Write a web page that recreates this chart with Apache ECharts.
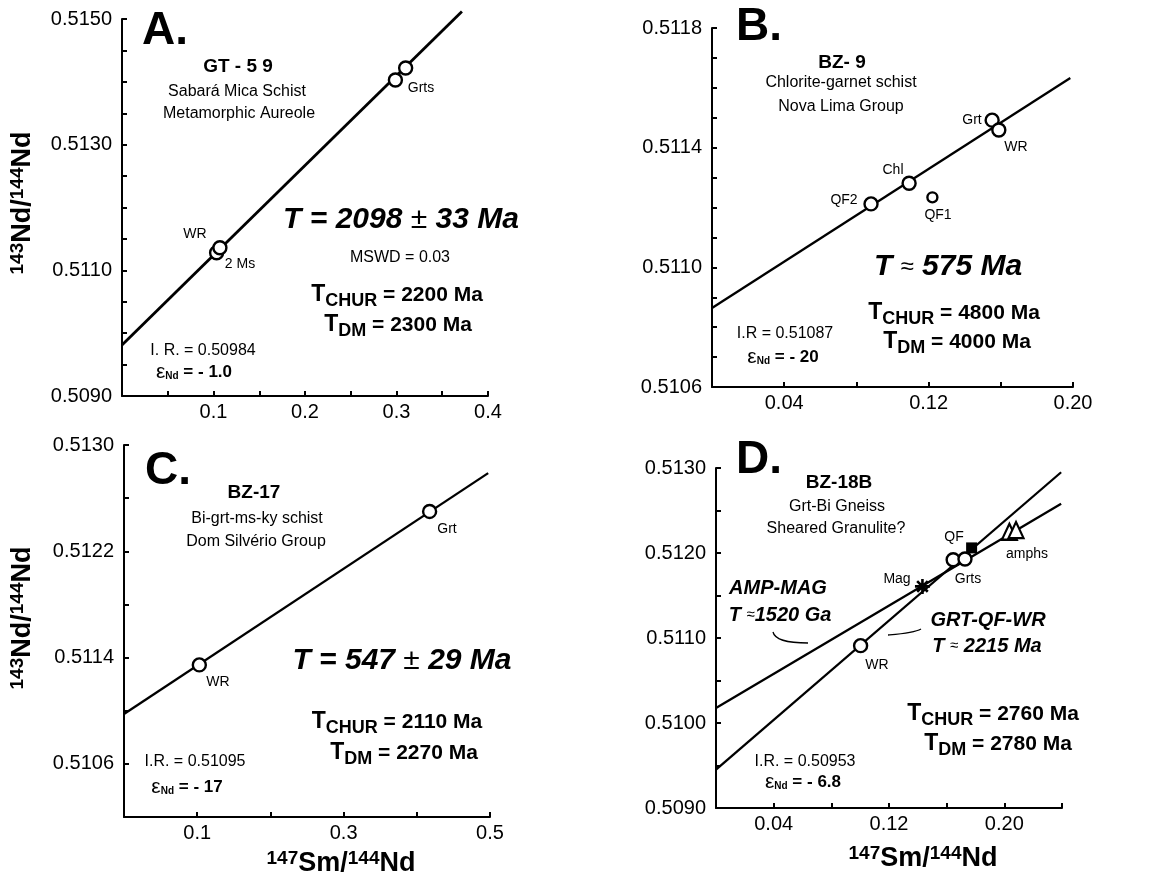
<!DOCTYPE html>
<html>
<head>
<meta charset="utf-8">
<script src="https://cdn.jsdelivr.net/npm/echarts@6/dist/echarts.min.js"></script>
<style>html,body{margin:0;padding:0;background:#fff;}#c{width:1157px;height:880px;}</style>
</head>
<body>
<div id="c"></div>
<script>
// ---------- DATA ----------
// Panel A  (GT-59)
const aPointsX = [0.1034, 0.1070, 0.2988, 0.3100];
const aPointsY = [0.51128, 0.51136, 0.51403, 0.51422];
const aLineX = [0, 0.3715];
const aLineY = [0.50981, 0.51512];
const aXTicks = [0.1, 0.2, 0.3, 0.4];
const aYTicks = [0.5090, 0.5110, 0.5130, 0.5150];

// Panel B  (BZ-9)
const bPointNames = ['QF2', 'Chl', 'QF1', 'Grt', 'WR'];
const bPointsX = [0.0881, 0.1092, 0.1221, 0.1552, 0.1589];
const bPointsY = [0.511212, 0.511281, 0.511234, 0.511492, 0.511459];
const bLineX = [0, 0.1985];
const bLineY = [0.510864, 0.511633];
const bXTicks = [0.04, 0.12, 0.20];
const bYTicks = [0.5106, 0.5110, 0.5114, 0.5118];

// Panel C  (BZ-17)
const cPointsX = [0.1029, 0.4175];
const cPointsY = [0.511345, 0.5125];
const cLineX = [0, 0.4975];
const cLineY = [0.510975, 0.512788];
const cXTicks = [0.1, 0.3, 0.5];
const cYTicks = [0.5106, 0.5114, 0.5122, 0.5130];

// Panel D  (BZ-18B)
const dCircleX = [0.1003, 0.1645, 0.1727];   // WR, Grts
const dCircleY = [0.51091, 0.51192, 0.51193];
const dSquareX = [0.1773];                   // QF
const dSquareY = [0.51206];
const dTriangleX = [0.2035, 0.2081];         // amphs
const dTriangleY = [0.51225, 0.51227];
const dStarX = [0.1432];                     // Mag
const dStarY = [0.511607];
const dLine1X = [0, 0.2394];                 // GRT-QF-WR
const dLine1Y = [0.509451, 0.51295];
const dLine2X = [0, 0.2394];                 // AMP-MAG
const dLine2Y = [0.510176, 0.51258];
const dXTicks = [0.04, 0.12, 0.20];
const dYTicks = [0.5090, 0.5100, 0.5110, 0.5120, 0.5130];

// ---------- HELPERS ----------
const FF = "'Liberation Sans', Arial, Helvetica, sans-serif";
const f = (size, weight, style) => `${style || 'normal'} ${weight || 'normal'} ${size}px ${FF}`;
const zip = (xs, ys) => xs.map((x, i) => [x, ys[i]]);

function xAx(grid, min, max, interval, labels, dec) {
  return {
    type: 'value', gridIndex: grid, min, max, interval, position: 'bottom',
    axisLine: { show: true, onZero: false, lineStyle: { color: '#000', width: 2 } },
    axisTick: { show: true, inside: true, length: 5, lineStyle: { color: '#000', width: 2 } },
    splitLine: { show: false },
    axisLabel: {
      color: '#000', fontSize: 20, fontFamily: FF, margin: 6,
      formatter: v => labels.some(t => Math.abs(t - v) < interval / 10) ? v.toFixed(dec) : ''
    }
  };
}
function yAx(grid, min, max, interval, labels, dec) {
  return {
    type: 'value', gridIndex: grid, min, max, interval, position: 'left',
    axisLine: { show: true, onZero: false, lineStyle: { color: '#000', width: 2 } },
    axisTick: { show: true, inside: true, length: 5, lineStyle: { color: '#000', width: 2 } },
    splitLine: { show: false },
    axisLabel: {
      color: '#000', fontSize: 20, fontFamily: FF, margin: 10,
      formatter: v => labels.some(t => Math.abs(t - v) < interval / 10) ? v.toFixed(dec) : ''
    }
  };
}
function lineS(i, xs, ys, w) {
  return { type: 'line', xAxisIndex: i, yAxisIndex: i, data: zip(xs, ys), symbol: 'none',
    clip: false, silent: true, animation: false, lineStyle: { color: '#000', width: w || 2.3 }, z: 2 };
}
function circS(i, xs, ys, size) {
  return { type: 'scatter', xAxisIndex: i, yAxisIndex: i, data: zip(xs, ys), symbol: 'circle',
    symbolSize: size || 13, silent: true, animation: false, clip: false,
    itemStyle: { color: '#fff', borderColor: '#000', borderWidth: 2.4, opacity: 1 }, z: 3 };
}
function txt(x, y, text, font, extra) {
  return { type: 'text', x, y, silent: true, z: 10,
    style: Object.assign({ text, font, fill: '#000', align: 'center', verticalAlign: 'middle' }, extra || {}) };
}
const SUP = { font: f(19, 'bold'), padding: [0, 0, 11, 0] };
const MAIN = { font: f(27, 'bold') };
const isoRich = { s: SUP, m: MAIN };
function tchur(x, y, label, value) {
  return txt(x, y, `{t|T}{s|${label}}{r| = ${value}}`, f(21, 'bold'), {
    rich: { t: { font: f(23, 'bold') }, s: { font: f(18, 'bold'), padding: [12, 0, 0, 0] }, r: { font: f(21, 'bold') } }
  });
}
function eps(x, y, value) {
  return txt(x, y, `{e|ε}{n|Nd}{r| = ${value}}`, f(17, 'bold'), {
    rich: { e: { font: f(21) }, n: { font: f(10, 'bold'), padding: [9, 0, 0, 0] }, r: { font: f(17, 'bold') } }
  });
}
function bigT(x, y, a, sym, b, size, symSize) {
  return txt(x, y, `{t|${a}}{p|${sym}}{t|${b}}`, f(size, 'bold', 'italic'), {
    rich: { t: { font: f(size, 'bold', 'italic') }, p: { font: f(symSize, 'normal') } }
  });
}
function vtxt(x, y, text) {
  const g = txt(x, y, text, f(27, 'bold'), { rich: isoRich });
  g.rotation = Math.PI / 2;
  return g;
}

const graphic = [
  // ----- Panel A -----
  txt(142, 31, 'A.', f(46, 'bold'), { align: 'left' }),
  txt(238, 67, 'GT - 5 9', f(19, 'bold')),
  txt(237, 92, 'Sabará Mica Schist', f(16)),
  txt(239, 114, 'Metamorphic Aureole', f(16)),
  bigT(401, 220, 'T = 2098 ', '±', ' 33 Ma', 30, 30),
  txt(400, 258, 'MSWD = 0.03', f(16)),
  tchur(397, 295, 'CHUR', '2200 Ma'),
  tchur(398, 325, 'DM', '2300 Ma'),
  txt(203, 351, 'I. R. = 0.50984', f(16)),
  eps(194, 372, '- 1.0'),
  txt(195, 234, 'WR', f(14)),
  txt(240, 264, '2 Ms', f(14)),
  txt(421, 88, 'Grts', f(14)),
  vtxt(23, 203, '{s|143}{m|Nd/}{s|144}{m|Nd}'),
  // ----- Panel B -----
  txt(736, 27, 'B.', f(46, 'bold'), { align: 'left' }),
  txt(842, 63, 'BZ- 9', f(19, 'bold')),
  txt(841, 83, 'Chlorite-garnet schist', f(16)),
  txt(841, 107, 'Nova Lima Group', f(16)),
  bigT(948, 267, 'T ', '≈', ' 575 Ma', 30, 24),
  tchur(954, 313, 'CHUR', '4800 Ma'),
  tchur(957, 342, 'DM', '4000 Ma'),
  txt(785, 334, 'I.R = 0.51087', f(16)),
  eps(783, 357, '- 20'),
  txt(972, 120, 'Grt', f(14)),
  txt(1016, 147, 'WR', f(14)),
  txt(893, 170, 'Chl', f(14)),
  txt(844, 200, 'QF2', f(14)),
  txt(938, 215, 'QF1', f(14)),
  // ----- Panel C -----
  txt(145, 471, 'C.', f(46, 'bold'), { align: 'left' }),
  txt(254, 493, 'BZ-17', f(19, 'bold')),
  txt(257, 519, 'Bi-grt-ms-ky schist', f(16)),
  txt(256, 542, 'Dom Silvério Group', f(16)),
  bigT(402, 661, 'T = 547 ', '±', ' 29 Ma', 30, 30),
  tchur(397, 722, 'CHUR', '2110 Ma'),
  tchur(404, 753, 'DM', '2270 Ma'),
  txt(195, 762, 'I.R. = 0.51095', f(16)),
  eps(187, 787, '- 17'),
  txt(218, 682, 'WR', f(14)),
  txt(447, 529, 'Grt', f(14)),
  vtxt(23, 618, '{s|143}{m|Nd/}{s|144}{m|Nd}'),
  txt(341, 864, '{s|147}{m|Sm/}{s|144}{m|Nd}', f(27, 'bold'), { rich: isoRich }),
  // ----- Panel D -----
  txt(736, 460, 'D.', f(46, 'bold'), { align: 'left' }),
  txt(839, 483, 'BZ-18B', f(19, 'bold')),
  txt(837, 507, 'Grt-Bi Gneiss', f(16)),
  txt(836, 529, 'Sheared Granulite?', f(16)),
  txt(778, 588, 'AMP-MAG', f(20, 'bold', 'italic')),
  bigT(780, 615, 'T ', '≈', '1520 Ga', 20, 15),
  txt(988, 620, 'GRT-QF-WR', f(20, 'bold', 'italic')),
  bigT(987, 646, 'T ', '≈', ' 2215 Ma', 20, 15),
  tchur(993, 714, 'CHUR', '2760 Ma'),
  tchur(998, 744, 'DM', '2780 Ma'),
  txt(805, 762, 'I.R. = 0.50953', f(16)),
  eps(803, 782, '- 6.8'),
  txt(954, 537, 'QF', f(14)),
  txt(1027, 554, 'amphs', f(14)),
  txt(897, 579, 'Mag', f(14)),
  txt(968, 579, 'Grts', f(14)),
  txt(877, 665, 'WR', f(14)),
  txt(923, 859, '{s|147}{m|Sm/}{s|144}{m|Nd}', f(27, 'bold'), { rich: isoRich }),
  { type: 'bezierCurve', silent: true, z: 10,
    shape: { x1: 773, y1: 632, cpx1: 775, cpy1: 641, cpx2: 790, cpy2: 643, x2: 808, y2: 643 },
    style: { stroke: '#000', lineWidth: 1.3, fill: null } },
  { type: 'bezierCurve', silent: true, z: 10,
    shape: { x1: 888, y1: 635, cpx1: 900, cpy1: 634, cpx2: 914, cpy2: 633, x2: 921, y2: 629 },
    style: { stroke: '#000', lineWidth: 1.3, fill: null } }
];

const chart = echarts.init(document.getElementById('c'), null, { renderer: 'canvas', width: 1157, height: 880 });
chart.setOption({
  backgroundColor: '#fff',
  animation: false,
  textStyle: { fontFamily: FF },
  grid: [
    { left: 122, top: 19, width: 366, height: 377 },
    { left: 712, top: 28, width: 361, height: 359 },
    { left: 124, top: 445, width: 366, height: 372 },
    { left: 716, top: 468, width: 346, height: 340 }
  ],
  xAxis: [
    xAx(0, 0, 0.4, 0.05, aXTicks, 1),
    xAx(1, 0, 0.2, 0.04, bXTicks, 2),
    xAx(2, 0, 0.5, 0.1, cXTicks, 1),
    xAx(3, 0, 0.24, 0.04, dXTicks, 2)
  ],
  yAxis: [
    yAx(0, 0.5090, 0.5150, 0.0005, aYTicks, 4),
    yAx(1, 0.5106, 0.5118, 0.0001, bYTicks, 4),
    yAx(2, 0.5102, 0.5130, 0.0004, cYTicks, 4),
    yAx(3, 0.5090, 0.5130, 0.0005, dYTicks, 4)
  ],
  series: [
    lineS(0, aLineX, aLineY, 2.8),
    circS(0, aPointsX, aPointsY, 13),
    lineS(1, bLineX, bLineY, 2.3),
    Object.assign(circS(1, bPointsX, bPointsY, 13), {
      symbolSize: (v, p) => bPointNames[p.dataIndex] === 'QF1' ? 10 : 13
    }),
    lineS(2, cLineX, cLineY, 2.3),
    circS(2, cPointsX, cPointsY, 13),
    lineS(3, dLine1X, dLine1Y, 2.3),
    lineS(3, dLine2X, dLine2Y, 2.3),
    circS(3, dCircleX, dCircleY, 13),
    { type: 'scatter', xAxisIndex: 3, yAxisIndex: 3, data: zip(dSquareX, dSquareY), symbol: 'rect',
      symbolSize: 11, silent: true, animation: false, itemStyle: { color: '#000', opacity: 1 }, z: 4 },
    { type: 'scatter', xAxisIndex: 3, yAxisIndex: 3, data: zip(dTriangleX, dTriangleY), symbol: 'triangle',
      symbolSize: [15, 16], silent: true, animation: false,
      itemStyle: { color: '#fff', borderColor: '#000', borderWidth: 2.2, opacity: 1 }, z: 3 },
    { type: 'scatter', xAxisIndex: 3, yAxisIndex: 3, data: zip(dStarX, dStarY),
      symbol: 'path://M10,0L10,20M0,10L20,10M2.93,2.93L17.07,17.07M2.93,17.07L17.07,2.93',
      symbolSize: 15, silent: true, animation: false,
      itemStyle: { color: '#000', borderColor: '#000', borderWidth: 2.6, opacity: 1 }, z: 4 }
  ],
  graphic: graphic
});
</script>
</body>
</html>
